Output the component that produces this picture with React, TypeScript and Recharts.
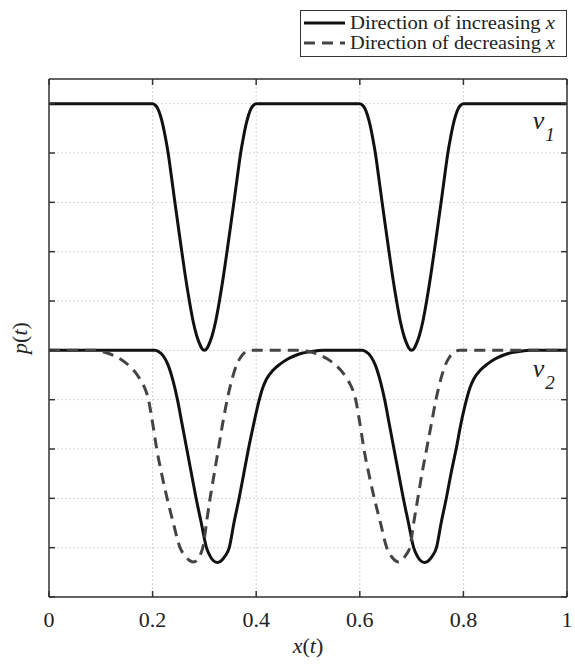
import React from 'react';
import { LineChart, Line, XAxis, YAxis, CartesianGrid, Legend, ReferenceDot } from 'recharts';

const xTicks = [0, 0.2, 0.4, 0.6, 0.8, 1];
const xTickLabels = ['0', '0.2', '0.4', '0.6', '0.8', '1'];
const yTicks = [0, 1, 2, 3, 4, 5, 6, 7, 8, 9, 10];

const seriesNames = ['Direction of increasing x', 'Direction of decreasing x'];

// v1, direction of increasing x (the decreasing curve coincides with it)
const v1Increasing: [number, number][] = [
  [0, 10], [0.2, 10], [0.205, 9.97], [0.21, 9.9], [0.215, 9.76], [0.22, 9.56], [0.225, 9.3],
  [0.23, 9.0], [0.236, 8.55], [0.242, 8.08], [0.249, 7.55], [0.256, 7.03], [0.263, 6.52], [0.271, 6.0],
  [0.278, 5.6], [0.285, 5.3], [0.29, 5.15], [0.295, 5.04], [0.3, 5.0], [0.305, 5.04], [0.31, 5.15],
  [0.315, 5.3], [0.322, 5.6], [0.329, 6.0], [0.337, 6.52], [0.344, 7.03], [0.351, 7.55], [0.358, 8.08],
  [0.364, 8.55], [0.37, 9.0], [0.375, 9.3], [0.38, 9.56], [0.385, 9.76], [0.39, 9.9], [0.395, 9.97],
  [0.4, 10], [0.6, 10], [0.605, 9.97], [0.61, 9.9], [0.615, 9.76], [0.62, 9.56], [0.625, 9.3],
  [0.63, 9.0], [0.636, 8.55], [0.642, 8.08], [0.649, 7.55], [0.656, 7.03], [0.663, 6.52], [0.671, 6.0],
  [0.678, 5.6], [0.685, 5.3], [0.69, 5.15], [0.695, 5.04], [0.7, 5.0], [0.705, 5.04], [0.71, 5.15],
  [0.715, 5.3], [0.722, 5.6], [0.729, 6.0], [0.737, 6.52], [0.744, 7.03], [0.751, 7.55], [0.758, 8.08],
  [0.764, 8.55], [0.77, 9.0], [0.775, 9.3], [0.78, 9.56], [0.785, 9.76], [0.79, 9.9], [0.795, 9.97],
  [0.8, 10], [1, 10],
];

// v2, direction of increasing x
const v2Increasing: [number, number][] = [
  [0, 5], [0.205, 5], [0.212, 4.97], [0.221, 4.88], [0.23, 4.7], [0.24, 4.36], [0.248, 4.0],
  [0.257, 3.5], [0.266, 3.0], [0.275, 2.5], [0.284, 2.0], [0.294, 1.5], [0.304, 1.0], [0.31, 0.85],
  [0.317, 0.74], [0.325, 0.7], [0.332, 0.73], [0.34, 0.83], [0.348, 1.0], [0.357, 1.5], [0.367, 2.0],
  [0.376, 2.5], [0.385, 3.0], [0.395, 3.5], [0.406, 4.0], [0.413, 4.25], [0.42, 4.42], [0.433, 4.6],
  [0.446, 4.72], [0.46, 4.82], [0.472, 4.88], [0.488, 4.94], [0.504, 4.97], [0.53, 5.0],
  [0.605, 5], [0.612, 4.97], [0.621, 4.88], [0.63, 4.7], [0.64, 4.36], [0.648, 4.0], [0.657, 3.5],
  [0.666, 3.0], [0.675, 2.5], [0.684, 2.0], [0.694, 1.5], [0.704, 1.0], [0.71, 0.85], [0.717, 0.74],
  [0.725, 0.7], [0.732, 0.73], [0.74, 0.83], [0.748, 1.0], [0.757, 1.5], [0.767, 2.0], [0.776, 2.5],
  [0.786, 3.0], [0.795, 3.5], [0.806, 4.0], [0.813, 4.25], [0.82, 4.42], [0.833, 4.6], [0.846, 4.72],
  [0.86, 4.82], [0.872, 4.88], [0.888, 4.94], [0.904, 4.97], [0.93, 5.0], [1, 5],
];

// v2, direction of decreasing x
const v2Decreasing: [number, number][] = [
  [0, 5], [0.09, 5], [0.1, 4.98], [0.111, 4.95], [0.124, 4.9], [0.137, 4.83], [0.15, 4.73],
  [0.163, 4.6], [0.173, 4.46], [0.182, 4.3], [0.187, 4.18], [0.192, 4.0], [0.197, 3.72], [0.202, 3.4],
  [0.208, 3.0], [0.218, 2.47], [0.228, 2.0], [0.24, 1.5], [0.253, 1.0], [0.262, 0.84], [0.27, 0.75],
  [0.279, 0.71], [0.286, 0.75], [0.292, 0.85], [0.298, 1.05], [0.304, 1.5], [0.311, 2.0], [0.319, 2.5],
  [0.327, 3.0], [0.335, 3.5], [0.344, 4.0], [0.353, 4.4], [0.362, 4.7], [0.37, 4.86], [0.377, 4.95],
  [0.388, 5.0],
  [0.49, 5], [0.5, 4.98], [0.511, 4.95], [0.524, 4.9], [0.537, 4.83], [0.55, 4.73], [0.563, 4.6],
  [0.573, 4.46], [0.582, 4.3], [0.587, 4.18], [0.592, 4.0], [0.597, 3.72], [0.602, 3.4], [0.608, 3.0],
  [0.618, 2.47], [0.628, 2.0], [0.64, 1.5], [0.652, 1.0], [0.66, 0.84], [0.667, 0.75], [0.675, 0.71],
  [0.682, 0.75], [0.689, 0.85], [0.697, 1.02], [0.704, 1.5], [0.712, 2.0], [0.72, 2.5], [0.729, 3.0],
  [0.738, 3.5], [0.747, 4.0], [0.756, 4.4], [0.765, 4.7], [0.773, 4.86], [0.781, 4.95], [0.792, 5.0],
  [1, 5],
];

const curveLabels = [
  { sub: '1', x: 0.934, y: 9.49 },
  { sub: '2', x: 0.934, y: 4.46 },
];

const toPoints = (arr: [number, number][]) => arr.map(([x, y]) => ({ x, y }));

const FONT = 'Liberation Serif';
const AXIS = '#333';

const EmptyTick = () => <g />;

const XTick = (props: any) => {
  const { x, y, payload } = props;
  const idx = xTicks.indexOf(payload.value);
  return (
    <text x={x} y={y} textAnchor="middle" dy="0.72em" style={{ fontFamily: FONT }} fontSize={22} fill="#222">
      {idx >= 0 ? xTickLabels[idx] : payload.value}
    </text>
  );
};

const XTitle = (props: any) => {
  const vb = props.viewBox || { x: 0, y: 0, width: 0, height: 0 };
  return (
    <text x={vb.x + vb.width / 2} y={vb.y + 56} textAnchor="middle" style={{ fontFamily: FONT }} fontSize={22} fill="#222">
      <tspan fontStyle="italic">x</tspan>(<tspan fontStyle="italic">t</tspan>)
    </text>
  );
};

const YTitle = (props: any) => {
  const vb = props.viewBox || { x: 0, y: 0, width: 0, height: 0 };
  const cx = vb.x + 27;
  const cy = vb.y + vb.height / 2;
  return (
    <text x={cx} y={cy} transform={`rotate(-90 ${cx} ${cy})`} textAnchor="middle" style={{ fontFamily: FONT }} fontSize={22} fill="#222">
      <tspan fontStyle="italic">p</tspan>(<tspan fontStyle="italic">t</tspan>)
    </text>
  );
};

const VLabel = (props: any) => {
  const vb = props.viewBox || { x: 0, y: 0 };
  return (
    <text x={vb.x} y={vb.y} style={{ fontFamily: FONT }} fontStyle="italic" fill="#222">
      <tspan fontSize={26}>v</tspan>
      <tspan fontSize={19} dx={1} dy={12}>{props.sub}</tspan>
    </text>
  );
};

const LegendBox = (props: any) => {
  const raw = (props.payload || []).filter((p: any) => p.type !== 'none');
  const items = seriesNames
    .map((n) => raw.find((p: any) => p.value === n))
    .filter(Boolean);
  return (
    <svg width={267} height={47} style={{ display: 'block' }}>
      <rect x={0.5} y={0.5} width={266} height={46} fill="#fff" stroke="#333" strokeWidth={1} />
      {items.map((item: any, i: number) => {
        const cy = 13 + i * 20;
        const text = String(item.value);
        const base = text.slice(0, -1);
        const last = text.slice(-1);
        return (
          <g key={i}>
            <line x1={4} x2={45} y1={cy} y2={cy} stroke={item.color} strokeWidth={3}
              strokeDasharray={item.payload && item.payload.strokeDasharray} />
            <text x={50} y={cy + 6} style={{ fontFamily: FONT }} fontSize={18} fill="#222" textLength={205} lengthAdjust="spacingAndGlyphs">
              {base}<tspan fontStyle="italic">{last}</tspan>
            </text>
          </g>
        );
      })}
    </svg>
  );
};

export default function App() {
  return (
    <div style={{ position: 'absolute', left: 0, top: 0, width: 575, height: 664, background: '#fff' }}>
      <LineChart width={575} height={664} margin={{ top: 78, right: 7, bottom: 0, left: 0 }}>
        <CartesianGrid xAxisId="bottom" yAxisId="left" stroke="#d6d6d6" strokeDasharray="2 2" strokeWidth={1} />
        <XAxis xAxisId="bottom" type="number" dataKey="x" domain={[0, 1]} ticks={xTicks} interval={0}
          allowDataOverflow height={67} tickSize={-6} tickMargin={20}
          axisLine={{ stroke: AXIS, strokeWidth: 1.5 }} tickLine={{ stroke: AXIS, strokeWidth: 1.5 }}
          tick={<XTick />} label={<XTitle />} />
        <XAxis xAxisId="top" orientation="top" type="number" dataKey="x" domain={[0, 1]} ticks={xTicks} interval={0}
          allowDataOverflow height={1} tickSize={-6} tick={<EmptyTick />}
          axisLine={{ stroke: AXIS, strokeWidth: 1.5 }} tickLine={{ stroke: AXIS, strokeWidth: 1.5 }} />
        <YAxis yAxisId="left" type="number" dataKey="y" domain={[0, 10.5]} ticks={yTicks} interval={0}
          allowDataOverflow width={49} tickSize={-6} tick={<EmptyTick />}
          axisLine={{ stroke: AXIS, strokeWidth: 1.5 }} tickLine={{ stroke: AXIS, strokeWidth: 1.5 }}
          label={<YTitle />} />
        <YAxis yAxisId="right" orientation="right" type="number" dataKey="y" domain={[0, 10.5]} ticks={yTicks} interval={0}
          allowDataOverflow width={1} tickSize={-6} tick={<EmptyTick />}
          axisLine={{ stroke: AXIS, strokeWidth: 1.5 }} tickLine={{ stroke: AXIS, strokeWidth: 1.5 }} />
        <Line xAxisId="bottom" yAxisId="left" data={toPoints(v1Increasing)} dataKey="y" name="v1"
          type="monotone" stroke="#111" strokeWidth={3} dot={false} activeDot={false}
          legendType="none" isAnimationActive={false} />
        <Line xAxisId="bottom" yAxisId="left" data={toPoints(v2Increasing)} dataKey="y" name={seriesNames[0]}
          type="monotone" stroke="#111" strokeWidth={3} dot={false} activeDot={false}
          isAnimationActive={false} />
        <Line xAxisId="bottom" yAxisId="left" data={toPoints(v2Decreasing)} dataKey="y" name={seriesNames[1]}
          type="monotone" stroke="#444" strokeWidth={3} strokeDasharray="11 7" dot={false} activeDot={false}
          isAnimationActive={false} />
        {curveLabels.map((c) => (
          <ReferenceDot key={c.sub} xAxisId="bottom" yAxisId="left" x={c.x} y={c.y} r={0}
            fill="none" stroke="none" label={<VLabel sub={c.sub} />} />
        ))}
        <Legend layout="horizontal" verticalAlign="middle" align="center"
          wrapperStyle={{ left: 300, top: 10, width: 267, height: 47 }} content={<LegendBox />} />
      </LineChart>
    </div>
  );
}
